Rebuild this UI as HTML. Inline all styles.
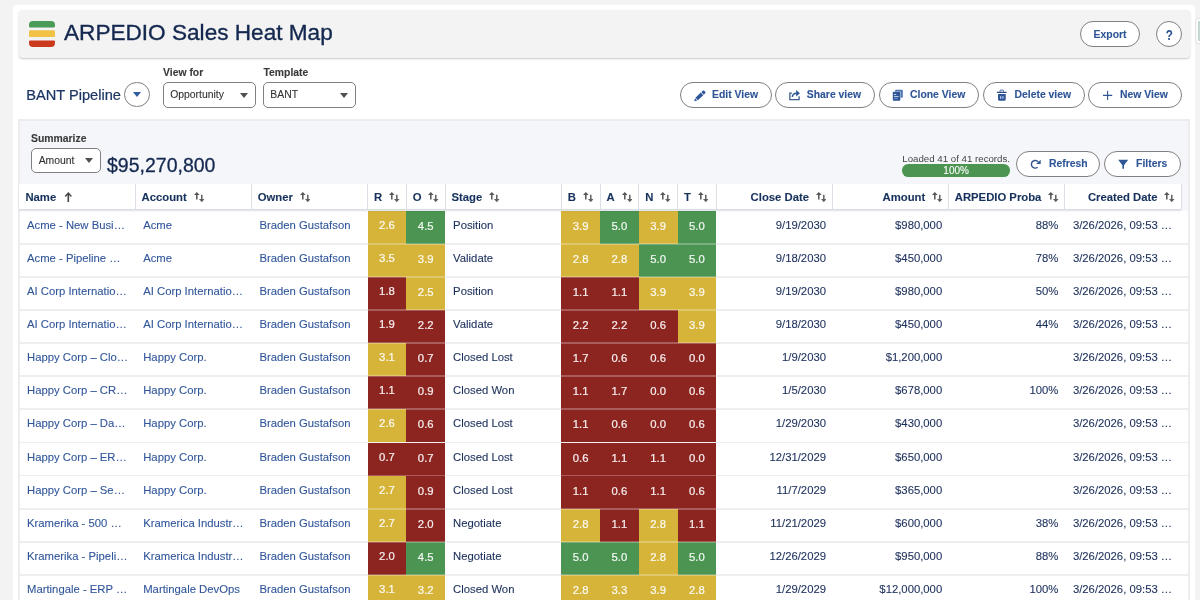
<!DOCTYPE html>
<html><head><meta charset="utf-8">
<style>
*{box-sizing:border-box;margin:0;padding:0}
html,body{width:1200px;height:600px;overflow:hidden;background:#f3f3f3;font-family:"Liberation Sans",sans-serif;color:#16325c}
div,svg{position:absolute}
body{-webkit-text-stroke:.1px}
#wrap{left:0;top:0;width:1200px;height:600px;will-change:transform}
#card{left:12.6px;top:4.6px;width:1182px;height:600px;background:#fff;border-radius:4px 4px 0 0}
#hdr{left:18.6px;top:10px;width:1171px;height:48px;background:#f3f3f3;border-radius:4px;box-shadow:0 1px 2px rgba(0,0,0,.22)}
#title{left:64px;top:18px;font-size:22.6px;line-height:30px;color:#14284f;white-space:nowrap;-webkit-text-stroke:.35px #14284f}
.btn{height:26px;border:1px solid #808080;border-radius:13px;background:#fff;color:#2e5596;font-weight:bold;font-size:10.4px;line-height:24px;white-space:nowrap}
.btn b{position:absolute;top:0;font-weight:bold}
.sel{height:25.5px;border:1px solid #808080;border-radius:5px;background:#fff;color:#333;font-size:10.4px;line-height:24px;padding-left:6.7px}
.arr{border-left:4px solid transparent;border-right:4px solid transparent;border-top:5px solid #505050;width:0;height:0}
.lbl{font-size:10.4px;font-weight:bold;color:#3a3a3a;white-space:nowrap;line-height:12px}
#sumo{left:18.2px;top:119.3px;width:1171.8px;height:500px;background:#ededef}
#sum{left:20px;top:121px;width:1168.3px;height:63px;background:#f4f6fa}
#tb{left:20px;top:184px;width:1168.3px;height:420px;background:#fff}
#thead{left:19px;top:183.8px;width:1162.1px;height:26.5px;background:#fff;border-bottom:1px solid #d9dde4;box-shadow:0 1px 2px rgba(0,0,0,.10);z-index:3}
#tbg{left:20px;top:183.8px;width:1168.3px;height:27px;background:#f5f7fa}
.th{top:0;height:25.5px;font-size:11.3px;font-weight:bold;color:#16325c;line-height:26.6px;white-space:nowrap;border-right:1px solid #dcdfe5;padding-left:6.4px}
.th span{margin-right:6.9px}
.thr{text-align:right;padding-right:5.5px;padding-left:0}
.si{position:static;vertical-align:-1.6px}
.row{left:19px;width:1169.3px;height:33.1px}
.row i{position:absolute;left:0;bottom:-.9px;width:100%;height:1.8px;background:#eeeef1}
.c{top:0;height:33.1px;font-size:11.3px;line-height:28.6px;white-space:nowrap;overflow:hidden;color:#1b2f5b}
.lk{color:#31569a}
.hm{color:rgba(255,255,255,.9);-webkit-text-stroke:.22px;text-align:center;line-height:30.8px;overflow:visible}
.hm:after{content:"";position:absolute;left:0;right:0;bottom:-.9px;height:1.8px;background:rgba(255,255,255,.26);z-index:2}
.hr{line-height:28.8px}
.y{background:#d6b43a}.g{background:#4b9452}.r{background:#8c2420}
.rt{text-align:right;padding-right:6.5px}
.tx{padding-left:8px}
</style></head><body>
<div id="wrap">
<div id="card"></div>
<div id="hdr"></div>
<svg style="left:29px;top:20.7px" width="26" height="26" viewBox="0 0 26 26"><path d="M0 5.3V4a4 4 0 0 1 4-4h18a4 4 0 0 1 4 4v1.3a1.1 1.1 0 0 1-1.1 1.1H1.1A1.1 1.1 0 0 1 0 5.3z" fill="#4a9a58"/><rect x="0" y="9.3" width="26" height="6.8" rx="1.1" fill="#f2c246"/><path d="M0 20.6V22a4 4 0 0 0 4 4h18a4 4 0 0 0 4-4v-1.4a1.1 1.1 0 0 0-1.1-1.1H1.1A1.1 1.1 0 0 0 0 20.6z" fill="#cc3a1e"/></svg>
<div id="title">ARPEDIO Sales Heat Map</div>
<div class="btn" style="left:1079.7px;top:21.4px;width:60.3px"><b style="left:12.9px;top:1px">Export</b></div>
<div class="btn" style="left:1156px;top:21.4px;width:26px;font-size:13.8px"><b style="left:8.1px;top:2px;transform:scaleX(.84)">?</b></div>
<div style="left:1195px;top:17.5px;width:8px;height:26.5px;background:#fafafa;border:1px solid #e4e4e4;border-radius:3px"></div>
<div style="left:1198.3px;top:21.3px;width:4px;height:20px;background:#c5d8cf;border-radius:1px"></div>

<div style="left:26.3px;top:85px;font-size:14.6px;line-height:20px;color:#1c3563;white-space:nowrap;-webkit-text-stroke:.22px">BANT Pipeline</div>
<div class="btn" style="left:124px;top:81.6px;width:25.8px;height:25.8px"><div class="arr" style="left:7.7px;top:9.4px;border-top-color:#2e5c9e;border-top-width:5.6px"></div></div>
<div class="lbl" style="left:163px;top:67px">View for</div>
<div class="sel" style="left:162.5px;top:82px;width:93.7px">Opportunity<div class="arr" style="left:76.7px;top:9.5px"></div></div>
<div class="lbl" style="left:263.5px;top:67px">Template</div>
<div class="sel" style="left:262.6px;top:82px;width:93.7px">BANT<div class="arr" style="left:76.9px;top:9.5px"></div></div>

<div class="btn" style="left:680px;top:81.5px;width:92px"><b style="left:31px">Edit View</b></div>
<div class="btn" style="left:775px;top:81.5px;width:100px"><b style="left:30.8px">Share view</b></div>
<div class="btn" style="left:878.5px;top:81.5px;width:100px"><b style="left:30.5px">Clone View</b></div>
<div class="btn" style="left:982.5px;top:81.5px;width:102.5px"><b style="left:31px">Delete view</b></div>
<div class="btn" style="left:1088px;top:81.5px;width:93.8px"><b style="left:31px">New View</b></div>

<div id="sumo"></div><div id="sum"></div><div id="tb"></div>
<div class="lbl" style="left:31px;top:132.5px">Summarize</div>
<div class="sel" style="left:31px;top:147.6px;width:69.8px">Amount<div class="arr" style="left:53.2px;top:9.8px"></div></div>
<div style="left:107px;top:152.5px;font-size:19.5px;line-height:24px;color:#15294f;white-space:nowrap;-webkit-text-stroke:.3px">$95,270,800</div>
<div style="left:902.3px;top:153px;font-size:9.7px;line-height:12px;color:#444;white-space:nowrap;-webkit-text-stroke:0">Loaded 41 of 41 records.</div>
<div style="left:902.3px;top:164px;width:107.7px;height:12.5px;border-radius:6.3px;background:#4b9452;color:#fff;font-size:10px;line-height:14.5px;text-align:center">100%</div>
<div class="btn" style="left:1016.3px;top:151px;width:83.8px;height:25.5px"><b style="left:31.7px">Refresh</b></div>
<div class="btn" style="left:1103.8px;top:151px;width:76.8px;height:25.5px"><b style="left:31.3px">Filters</b></div>

<div id="tbg"></div>
<div id="thead">
<div class="th" style="left:0px;width:116.7px"><span>Name</span><svg class="si" width="10.6" height="10.4" viewBox="0 0 10.6 10.4"><path d="M5.3 0L8.9 3.9L7.9 4.9L6.1 3V10.3H4.5V3L2.7 4.9L1.7 3.9z" fill="#444"/></svg></div>
<div class="th" style="left:116.2px;width:116.7px"><span>Account</span><svg class="si" width="10.6" height="10.4" viewBox="0 0 10.6 10.4"><path d="M2.8 0L5.6 3.1H3.55V7.4H2.05V3.1H0z" fill="#565656"/><path d="M7.8 10.2L5 7.1H7.05V2.8H8.55V7.1H10.6z" fill="#606060"/></svg></div>
<div class="th" style="left:232.4px;width:116.7px"><span>Owner</span><svg class="si" width="10.6" height="10.4" viewBox="0 0 10.6 10.4"><path d="M2.8 0L5.6 3.1H3.55V7.4H2.05V3.1H0z" fill="#565656"/><path d="M7.8 10.2L5 7.1H7.05V2.8H8.55V7.1H10.6z" fill="#606060"/></svg></div>
<div class="th" style="left:348.6px;width:39.25px"><span>R</span><svg class="si" width="10.6" height="10.4" viewBox="0 0 10.6 10.4"><path d="M2.8 0L5.6 3.1H3.55V7.4H2.05V3.1H0z" fill="#565656"/><path d="M7.8 10.2L5 7.1H7.05V2.8H8.55V7.1H10.6z" fill="#606060"/></svg></div>
<div class="th" style="left:387.35px;width:39.25px"><span>O</span><svg class="si" width="10.6" height="10.4" viewBox="0 0 10.6 10.4"><path d="M2.8 0L5.6 3.1H3.55V7.4H2.05V3.1H0z" fill="#565656"/><path d="M7.8 10.2L5 7.1H7.05V2.8H8.55V7.1H10.6z" fill="#606060"/></svg></div>
<div class="th" style="left:426.1px;width:116.7px"><span>Stage</span><svg class="si" width="10.6" height="10.4" viewBox="0 0 10.6 10.4"><path d="M2.8 0L5.6 3.1H3.55V7.4H2.05V3.1H0z" fill="#565656"/><path d="M7.8 10.2L5 7.1H7.05V2.8H8.55V7.1H10.6z" fill="#606060"/></svg></div>
<div class="th" style="left:542.3px;width:39.25px"><span>B</span><svg class="si" width="10.6" height="10.4" viewBox="0 0 10.6 10.4"><path d="M2.8 0L5.6 3.1H3.55V7.4H2.05V3.1H0z" fill="#565656"/><path d="M7.8 10.2L5 7.1H7.05V2.8H8.55V7.1H10.6z" fill="#606060"/></svg></div>
<div class="th" style="left:581.05px;width:39.25px"><span>A</span><svg class="si" width="10.6" height="10.4" viewBox="0 0 10.6 10.4"><path d="M2.8 0L5.6 3.1H3.55V7.4H2.05V3.1H0z" fill="#565656"/><path d="M7.8 10.2L5 7.1H7.05V2.8H8.55V7.1H10.6z" fill="#606060"/></svg></div>
<div class="th" style="left:619.8px;width:39.25px"><span>N</span><svg class="si" width="10.6" height="10.4" viewBox="0 0 10.6 10.4"><path d="M2.8 0L5.6 3.1H3.55V7.4H2.05V3.1H0z" fill="#565656"/><path d="M7.8 10.2L5 7.1H7.05V2.8H8.55V7.1H10.6z" fill="#606060"/></svg></div>
<div class="th" style="left:658.55px;width:39.25px"><span>T</span><svg class="si" width="10.6" height="10.4" viewBox="0 0 10.6 10.4"><path d="M2.8 0L5.6 3.1H3.55V7.4H2.05V3.1H0z" fill="#565656"/><path d="M7.8 10.2L5 7.1H7.05V2.8H8.55V7.1H10.6z" fill="#606060"/></svg></div>
<div class="th thr" style="left:697.3px;width:116.7px"><span>Close Date</span><svg class="si" width="10.6" height="10.4" viewBox="0 0 10.6 10.4"><path d="M2.8 0L5.6 3.1H3.55V7.4H2.05V3.1H0z" fill="#565656"/><path d="M7.8 10.2L5 7.1H7.05V2.8H8.55V7.1H10.6z" fill="#606060"/></svg></div>
<div class="th thr" style="left:813.5px;width:116.7px"><span>Amount</span><svg class="si" width="10.6" height="10.4" viewBox="0 0 10.6 10.4"><path d="M2.8 0L5.6 3.1H3.55V7.4H2.05V3.1H0z" fill="#565656"/><path d="M7.8 10.2L5 7.1H7.05V2.8H8.55V7.1H10.6z" fill="#606060"/></svg></div>
<div class="th thr" style="left:929.7px;width:116.7px"><span>ARPEDIO Proba</span><svg class="si" width="10.6" height="10.4" viewBox="0 0 10.6 10.4"><path d="M2.8 0L5.6 3.1H3.55V7.4H2.05V3.1H0z" fill="#565656"/><path d="M7.8 10.2L5 7.1H7.05V2.8H8.55V7.1H10.6z" fill="#606060"/></svg></div>
<div class="th thr" style="left:1045.9px;width:116.7px"><span>Created Date</span><svg class="si" width="10.6" height="10.4" viewBox="0 0 10.6 10.4"><path d="M2.8 0L5.6 3.1H3.55V7.4H2.05V3.1H0z" fill="#565656"/><path d="M7.8 10.2L5 7.1H7.05V2.8H8.55V7.1H10.6z" fill="#606060"/></svg></div>
</div><!--/thead-->
<div id="rows">
<div class="row" style="top:210.8px"><i></i><div class="c lk tx" style="left:0px;width:116.2px">Acme - New Busi…</div><div class="c lk tx" style="left:116.2px;width:116.2px">Acme</div><div class="c lk tx" style="left:232.4px;width:116.2px">Braden Gustafson</div><div class="c hm hr y" style="left:348.6px;width:38.75px">2.6</div><div class="c hm g" style="left:387.35px;width:38.75px">4.5</div><div class="c tx" style="left:426.1px;width:116.2px">Position</div><div class="c hm y" style="left:542.3px;width:38.75px">3.9</div><div class="c hm g" style="left:581.05px;width:38.75px">5.0</div><div class="c hm y" style="left:619.8px;width:38.75px">3.9</div><div class="c hm g" style="left:658.55px;width:38.75px">5.0</div><div class="c rt" style="left:697.3px;width:116.2px">9/19/2030</div><div class="c rt" style="left:813.5px;width:116.2px">$980,000</div><div class="c rt" style="left:929.7px;width:116.2px">88%</div><div class="c tx" style="left:1045.9px;width:116.2px">3/26/2026, 09:53 …</div></div>
<div class="row" style="top:243.9px"><i></i><div class="c lk tx" style="left:0px;width:116.2px">Acme - Pipeline …</div><div class="c lk tx" style="left:116.2px;width:116.2px">Acme</div><div class="c lk tx" style="left:232.4px;width:116.2px">Braden Gustafson</div><div class="c hm hr y" style="left:348.6px;width:38.75px">3.5</div><div class="c hm y" style="left:387.35px;width:38.75px">3.9</div><div class="c tx" style="left:426.1px;width:116.2px">Validate</div><div class="c hm y" style="left:542.3px;width:38.75px">2.8</div><div class="c hm y" style="left:581.05px;width:38.75px">2.8</div><div class="c hm g" style="left:619.8px;width:38.75px">5.0</div><div class="c hm g" style="left:658.55px;width:38.75px">5.0</div><div class="c rt" style="left:697.3px;width:116.2px">9/18/2030</div><div class="c rt" style="left:813.5px;width:116.2px">$450,000</div><div class="c rt" style="left:929.7px;width:116.2px">78%</div><div class="c tx" style="left:1045.9px;width:116.2px">3/26/2026, 09:53 …</div></div>
<div class="row" style="top:277.0px"><i></i><div class="c lk tx" style="left:0px;width:116.2px">AI Corp Internatio…</div><div class="c lk tx" style="left:116.2px;width:116.2px">AI Corp Internatio…</div><div class="c lk tx" style="left:232.4px;width:116.2px">Braden Gustafson</div><div class="c hm hr r" style="left:348.6px;width:38.75px">1.8</div><div class="c hm y" style="left:387.35px;width:38.75px">2.5</div><div class="c tx" style="left:426.1px;width:116.2px">Position</div><div class="c hm r" style="left:542.3px;width:38.75px">1.1</div><div class="c hm r" style="left:581.05px;width:38.75px">1.1</div><div class="c hm y" style="left:619.8px;width:38.75px">3.9</div><div class="c hm y" style="left:658.55px;width:38.75px">3.9</div><div class="c rt" style="left:697.3px;width:116.2px">9/19/2030</div><div class="c rt" style="left:813.5px;width:116.2px">$980,000</div><div class="c rt" style="left:929.7px;width:116.2px">50%</div><div class="c tx" style="left:1045.9px;width:116.2px">3/26/2026, 09:53 …</div></div>
<div class="row" style="top:310.1px"><i></i><div class="c lk tx" style="left:0px;width:116.2px">AI Corp Internatio…</div><div class="c lk tx" style="left:116.2px;width:116.2px">AI Corp Internatio…</div><div class="c lk tx" style="left:232.4px;width:116.2px">Braden Gustafson</div><div class="c hm hr r" style="left:348.6px;width:38.75px">1.9</div><div class="c hm r" style="left:387.35px;width:38.75px">2.2</div><div class="c tx" style="left:426.1px;width:116.2px">Validate</div><div class="c hm r" style="left:542.3px;width:38.75px">2.2</div><div class="c hm r" style="left:581.05px;width:38.75px">2.2</div><div class="c hm r" style="left:619.8px;width:38.75px">0.6</div><div class="c hm y" style="left:658.55px;width:38.75px">3.9</div><div class="c rt" style="left:697.3px;width:116.2px">9/18/2030</div><div class="c rt" style="left:813.5px;width:116.2px">$450,000</div><div class="c rt" style="left:929.7px;width:116.2px">44%</div><div class="c tx" style="left:1045.9px;width:116.2px">3/26/2026, 09:53 …</div></div>
<div class="row" style="top:343.2px"><i></i><div class="c lk tx" style="left:0px;width:116.2px">Happy Corp – Clo…</div><div class="c lk tx" style="left:116.2px;width:116.2px">Happy Corp.</div><div class="c lk tx" style="left:232.4px;width:116.2px">Braden Gustafson</div><div class="c hm hr y" style="left:348.6px;width:38.75px">3.1</div><div class="c hm r" style="left:387.35px;width:38.75px">0.7</div><div class="c tx" style="left:426.1px;width:116.2px">Closed Lost</div><div class="c hm r" style="left:542.3px;width:38.75px">1.7</div><div class="c hm r" style="left:581.05px;width:38.75px">0.6</div><div class="c hm r" style="left:619.8px;width:38.75px">0.6</div><div class="c hm r" style="left:658.55px;width:38.75px">0.0</div><div class="c rt" style="left:697.3px;width:116.2px">1/9/2030</div><div class="c rt" style="left:813.5px;width:116.2px">$1,200,000</div><div class="c rt" style="left:929.7px;width:116.2px"></div><div class="c tx" style="left:1045.9px;width:116.2px">3/26/2026, 09:53 …</div></div>
<div class="row" style="top:376.3px"><i></i><div class="c lk tx" style="left:0px;width:116.2px">Happy Corp – CR…</div><div class="c lk tx" style="left:116.2px;width:116.2px">Happy Corp.</div><div class="c lk tx" style="left:232.4px;width:116.2px">Braden Gustafson</div><div class="c hm hr r" style="left:348.6px;width:38.75px">1.1</div><div class="c hm r" style="left:387.35px;width:38.75px">0.9</div><div class="c tx" style="left:426.1px;width:116.2px">Closed Won</div><div class="c hm r" style="left:542.3px;width:38.75px">1.1</div><div class="c hm r" style="left:581.05px;width:38.75px">1.7</div><div class="c hm r" style="left:619.8px;width:38.75px">0.0</div><div class="c hm r" style="left:658.55px;width:38.75px">0.6</div><div class="c rt" style="left:697.3px;width:116.2px">1/5/2030</div><div class="c rt" style="left:813.5px;width:116.2px">$678,000</div><div class="c rt" style="left:929.7px;width:116.2px">100%</div><div class="c tx" style="left:1045.9px;width:116.2px">3/26/2026, 09:53 …</div></div>
<div class="row" style="top:409.4px"><i></i><div class="c lk tx" style="left:0px;width:116.2px">Happy Corp – Da…</div><div class="c lk tx" style="left:116.2px;width:116.2px">Happy Corp.</div><div class="c lk tx" style="left:232.4px;width:116.2px">Braden Gustafson</div><div class="c hm hr y" style="left:348.6px;width:38.75px">2.6</div><div class="c hm r" style="left:387.35px;width:38.75px">0.6</div><div class="c tx" style="left:426.1px;width:116.2px">Closed Lost</div><div class="c hm r" style="left:542.3px;width:38.75px">1.1</div><div class="c hm r" style="left:581.05px;width:38.75px">0.6</div><div class="c hm r" style="left:619.8px;width:38.75px">0.0</div><div class="c hm r" style="left:658.55px;width:38.75px">0.6</div><div class="c rt" style="left:697.3px;width:116.2px">1/29/2030</div><div class="c rt" style="left:813.5px;width:116.2px">$430,000</div><div class="c rt" style="left:929.7px;width:116.2px"></div><div class="c tx" style="left:1045.9px;width:116.2px">3/26/2026, 09:53 …</div></div>
<div class="row" style="top:442.5px"><i></i><div class="c lk tx" style="left:0px;width:116.2px">Happy Corp – ER…</div><div class="c lk tx" style="left:116.2px;width:116.2px">Happy Corp.</div><div class="c lk tx" style="left:232.4px;width:116.2px">Braden Gustafson</div><div class="c hm hr r" style="left:348.6px;width:38.75px">0.7</div><div class="c hm r" style="left:387.35px;width:38.75px">0.7</div><div class="c tx" style="left:426.1px;width:116.2px">Closed Lost</div><div class="c hm r" style="left:542.3px;width:38.75px">0.6</div><div class="c hm r" style="left:581.05px;width:38.75px">1.1</div><div class="c hm r" style="left:619.8px;width:38.75px">1.1</div><div class="c hm r" style="left:658.55px;width:38.75px">0.0</div><div class="c rt" style="left:697.3px;width:116.2px">12/31/2029</div><div class="c rt" style="left:813.5px;width:116.2px">$650,000</div><div class="c rt" style="left:929.7px;width:116.2px"></div><div class="c tx" style="left:1045.9px;width:116.2px">3/26/2026, 09:53 …</div></div>
<div class="row" style="top:475.6px"><i></i><div class="c lk tx" style="left:0px;width:116.2px">Happy Corp – Se…</div><div class="c lk tx" style="left:116.2px;width:116.2px">Happy Corp.</div><div class="c lk tx" style="left:232.4px;width:116.2px">Braden Gustafson</div><div class="c hm hr y" style="left:348.6px;width:38.75px">2.7</div><div class="c hm r" style="left:387.35px;width:38.75px">0.9</div><div class="c tx" style="left:426.1px;width:116.2px">Closed Lost</div><div class="c hm r" style="left:542.3px;width:38.75px">1.1</div><div class="c hm r" style="left:581.05px;width:38.75px">0.6</div><div class="c hm r" style="left:619.8px;width:38.75px">1.1</div><div class="c hm r" style="left:658.55px;width:38.75px">0.6</div><div class="c rt" style="left:697.3px;width:116.2px">11/7/2029</div><div class="c rt" style="left:813.5px;width:116.2px">$365,000</div><div class="c rt" style="left:929.7px;width:116.2px"></div><div class="c tx" style="left:1045.9px;width:116.2px">3/26/2026, 09:53 …</div></div>
<div class="row" style="top:508.7px"><i></i><div class="c lk tx" style="left:0px;width:116.2px">Kramerika - 500 …</div><div class="c lk tx" style="left:116.2px;width:116.2px">Kramerica Industr…</div><div class="c lk tx" style="left:232.4px;width:116.2px">Braden Gustafson</div><div class="c hm hr y" style="left:348.6px;width:38.75px">2.7</div><div class="c hm r" style="left:387.35px;width:38.75px">2.0</div><div class="c tx" style="left:426.1px;width:116.2px">Negotiate</div><div class="c hm y" style="left:542.3px;width:38.75px">2.8</div><div class="c hm r" style="left:581.05px;width:38.75px">1.1</div><div class="c hm y" style="left:619.8px;width:38.75px">2.8</div><div class="c hm r" style="left:658.55px;width:38.75px">1.1</div><div class="c rt" style="left:697.3px;width:116.2px">11/21/2029</div><div class="c rt" style="left:813.5px;width:116.2px">$600,000</div><div class="c rt" style="left:929.7px;width:116.2px">38%</div><div class="c tx" style="left:1045.9px;width:116.2px">3/26/2026, 09:53 …</div></div>
<div class="row" style="top:541.8px"><i></i><div class="c lk tx" style="left:0px;width:116.2px">Kramerika - Pipeli…</div><div class="c lk tx" style="left:116.2px;width:116.2px">Kramerica Industr…</div><div class="c lk tx" style="left:232.4px;width:116.2px">Braden Gustafson</div><div class="c hm hr r" style="left:348.6px;width:38.75px">2.0</div><div class="c hm g" style="left:387.35px;width:38.75px">4.5</div><div class="c tx" style="left:426.1px;width:116.2px">Negotiate</div><div class="c hm g" style="left:542.3px;width:38.75px">5.0</div><div class="c hm g" style="left:581.05px;width:38.75px">5.0</div><div class="c hm y" style="left:619.8px;width:38.75px">2.8</div><div class="c hm g" style="left:658.55px;width:38.75px">5.0</div><div class="c rt" style="left:697.3px;width:116.2px">12/26/2029</div><div class="c rt" style="left:813.5px;width:116.2px">$950,000</div><div class="c rt" style="left:929.7px;width:116.2px">88%</div><div class="c tx" style="left:1045.9px;width:116.2px">3/26/2026, 09:53 …</div></div>
<div class="row" style="top:574.9px"><i></i><div class="c lk tx" style="left:0px;width:116.2px">Martingale - ERP …</div><div class="c lk tx" style="left:116.2px;width:116.2px">Martingale DevOps</div><div class="c lk tx" style="left:232.4px;width:116.2px">Braden Gustafson</div><div class="c hm hr y" style="left:348.6px;width:38.75px">3.1</div><div class="c hm y" style="left:387.35px;width:38.75px">3.2</div><div class="c tx" style="left:426.1px;width:116.2px">Closed Won</div><div class="c hm y" style="left:542.3px;width:38.75px">2.8</div><div class="c hm y" style="left:581.05px;width:38.75px">3.3</div><div class="c hm y" style="left:619.8px;width:38.75px">3.9</div><div class="c hm y" style="left:658.55px;width:38.75px">2.8</div><div class="c rt" style="left:697.3px;width:116.2px">1/29/2029</div><div class="c rt" style="left:813.5px;width:116.2px">$12,000,000</div><div class="c rt" style="left:929.7px;width:116.2px">100%</div><div class="c tx" style="left:1045.9px;width:116.2px">3/26/2026, 09:53 …</div></div>
</div><!--/rows-->

<!-- icons -->
<svg style="left:693px;top:89.5px" width="13" height="13" viewBox="0 0 13 13"><g transform="translate(1.2,11.3) rotate(-43.5)" fill="#2e5596"><path d="M0 0L2.7 -1.5V1.5z"/><rect x="3.4" y="-1.75" width="7.4" height="3.5"/><path d="M11.5 -1.75h1.9a1.1 1.1 0 0 1 1.1 1.1v1.3a1.1 1.1 0 0 1-1.1 1.1h-1.9z"/></g></svg>
<svg style="left:788px;top:89px" width="13" height="13" viewBox="0 0 13 13"><path d="M3.9 4.1H1.85V10.65H11.1V7.2" fill="none" stroke="#3c5c8e" stroke-width="1.3"/><path d="M4.2 7.9C4.6 5.3 6.3 4.3 8.5 4.2" fill="none" stroke="#2e5596" stroke-width="1.5"/><path d="M8.1 1V7.4L11.9 4.2z" fill="#2e5596"/></svg>
<svg style="left:892px;top:89px" width="13" height="13" viewBox="0 0 13 13"><rect x="3" y="0.8" width="7.8" height="8" rx="0.9" fill="#4f72b0"/><rect x="0.5" y="2.5" width="8.2" height="9.5" rx="0.9" fill="#fff"/><rect x="0.8" y="2.8" width="7.5" height="8.9" rx="0.9" fill="#2e5596"/><rect x="2" y="5" width="2.2" height="0.9" fill="#dbe4f5"/><rect x="2" y="7" width="4.7" height="0.9" fill="#c9d6ef"/><rect x="2" y="8.9" width="3.7" height="0.8" fill="#8da6d6"/></svg>
<svg style="left:996px;top:89px" width="13" height="13" viewBox="0 0 13 13"><path d="M4 2.8V2a1 1 0 0 1 1-1h1.5a1 1 0 0 1 1 1v0.8" fill="none" stroke="#2e5596" stroke-width="0.9"/><rect x="0.8" y="2.8" width="9.9" height="1.2" rx="0.4" fill="#2a4a86"/><path d="M2 5H9.7V10.6a1.1 1.1 0 0 1-1.1 1.1H3.1A1.1 1.1 0 0 1 2 10.6z" fill="#2e5596"/><rect x="4" y="7.2" width="1.2" height="2.5" fill="#c3d2ee"/><rect x="6.3" y="7.2" width="1.2" height="2.5" fill="#c3d2ee"/></svg>
<svg style="left:1102px;top:89px" width="13" height="13" viewBox="0 0 13 13"><path d="M1 6.4H10.2M5.6 1.8V11" stroke="#2e5596" stroke-width="1.1" fill="none"/></svg>
<svg style="left:1030px;top:158px" width="13" height="13" viewBox="0 0 13 13"><path d="M7.64 9.21A3.8 3.8 0 1 1 8.11 3.86" fill="none" stroke="#34518c" stroke-width="1.35"/><path d="M10.7 1.8V6.1H6.1z" fill="#2e5596"/></svg>
<svg style="left:1117px;top:158px" width="13" height="13" viewBox="0 0 13 13"><path d="M1.2 1.8H11.2L7 7.2V10.8H5.4V7.2z" fill="#2e5596"/></svg>
</div>
</body></html>
